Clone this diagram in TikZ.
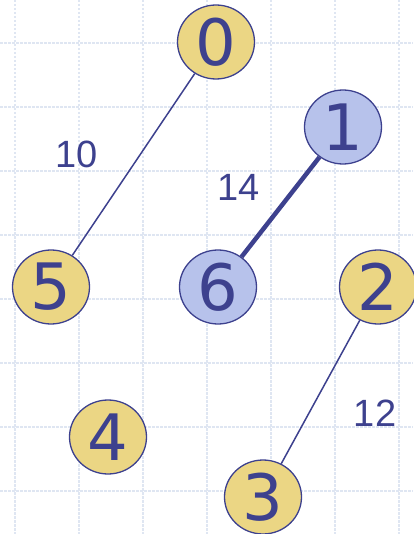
\documentclass[tikz,border=0pt]{standalone}
\usepackage{fontspec}
\usepackage{xcolor}
\usepackage{tikz}
\usetikzlibrary{shapes.geometric}
\newfontfamily\numfont{DejaVu Sans}
\newfontfamily\wtfont{Liberation Sans}
\definecolor{ink}{HTML}{3D418E}
\definecolor{sand}{HTML}{EBD684}
\definecolor{lilac}{HTML}{B7C2EB}
\definecolor{gridblue}{HTML}{DFE6F2}

\begin{document}
\begin{tikzpicture}[x=1pt, y=-1pt,
  vertex/.style={ellipse, draw=ink, line width=1.3pt, minimum width=77pt,
                 minimum height=74pt, inner sep=0pt, text=ink,
                 font=\numfont\fontsize{64}{64}\selectfont},
  free/.style={vertex, fill=sand},
  tree/.style={vertex, fill=lilac},
  weight/.style={text=ink, inner sep=0pt, font=\wtfont\fontsize{38}{38}\selectfont},
  edge/.style={draw=ink, line width=1.5pt},
  gridline/.style={gridblue, line width=1.7pt, dash pattern=on 2.5pt off 1.5pt}
]
  \useasboundingbox (0,0) rectangle (413,534);
  \foreach \x in {15,79,...,399} \draw[gridline] (\x,0) -- (\x,534);
  \foreach \y in {43,107,...,491} \draw[gridline] (0,\y) -- (413,\y);

  \node[free] (v0) at (216,42)  {0};
  \node[tree] (v1) at (343,127) {1};
  \node[free] (v2) at (378,287) {2};
  \node[free] (v3) at (263,497) {3};
  \node[free] (v4) at (108,437) {4};
  \node[free] (v5) at (51,287)  {5};
  \node[tree] (v6) at (218,287) {6};

  \draw[edge] (v0) -- (v5);
  \draw[edge, line width=4.5pt] (v1) -- (v6);
  \draw[edge] (v2) -- (v3);

  \node[weight] (w05) at (77,154)  {10};
  \node[weight] (w16) at (239,187) {14};
  \node[weight] (w23) at (375,413) {12};
\end{tikzpicture}
\end{document}
